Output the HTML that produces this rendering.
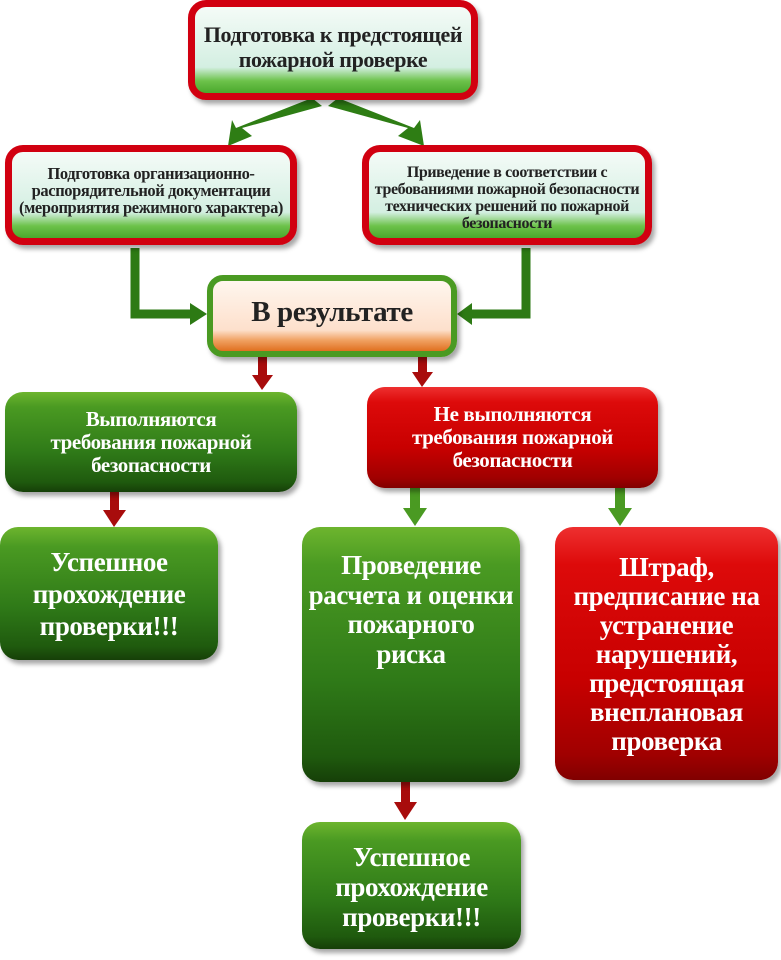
<!DOCTYPE html>
<html><head><meta charset="utf-8"><style>
body{margin:0;width:781px;height:960px;background:#fff;position:relative;overflow:hidden;font-family:"Liberation Serif","Noto Serif CJK SC",serif;font-weight:bold}
.b{position:absolute;box-sizing:border-box;display:flex;align-items:center;justify-content:center;text-align:center;border-radius:16px;box-shadow:3px 4px 5px rgba(0,0,0,.35)}
.rb{border:7px solid #d10010;background:linear-gradient(#f4fbf7 0%,#d4efe2 70%,#6cc24a 86%,#4aa82c 100%);color:#222;border-radius:18px}
.gb{border:6px solid #4a9a22;background:linear-gradient(#fff6ee 0%,#fde0cc 70%,#f0a060 85%,#e07020 100%);color:#222}
.g{background:linear-gradient(#6db52e 0%,#4a9a22 15%,#2f7a18 60%,#1f5a0e 90%,#163f08 100%);color:#fff;border-radius:18px}
.r{background:linear-gradient(#ee3030 0%,#dd0a0a 15%,#c80000 60%,#a00000 90%,#800000 100%);color:#fff;border-radius:18px}
.t{letter-spacing:-0.4px;white-space:nowrap}
</style></head><body>
<svg width="781" height="960" style="position:absolute;left:0;top:0">
<g fill="#2e7d14" stroke="none">
<polygon points="312,98 322,106 242,128 252,136 228,146 232,120 236,128"/>
<polygon points="338,98 328,106 408,128 398,136 424,146 420,120 414,128"/>
</g>
<g stroke="#2d7a14" stroke-width="9" fill="none">
<polyline points="135,248 135,314 194,314"/>
<polyline points="526,248 526,314 468,314"/>
</g>
<polygon points="190,303 207,314 190,325" fill="#2d7a14"/>
<polygon points="472,303 457,314 472,325" fill="#2d7a14"/>
<g fill="#a80c0c">
<rect x="258" y="357" width="9" height="20"/><polygon points="252,375 273,375 262,390"/>
<rect x="418" y="357" width="9" height="16"/><polygon points="412,372 433,372 422,387"/>
<rect x="110" y="490" width="9" height="22"/><polygon points="103,510 126,510 114,527"/>
<rect x="401" y="782" width="9" height="22"/><polygon points="394,802 417,802 405,820"/>
</g>
<g fill="#4a9a22">
<rect x="410" y="488" width="10" height="22"/><polygon points="403,508 427,508 415,526"/>
<rect x="615" y="488" width="10" height="22"/><polygon points="608,508 632,508 620,526"/>
</g>
</svg>
<div class="b rb t" style="left:188px;top:0;width:290px;height:100px;font-size:22px;line-height:25px;padding-bottom:6px">Подготовка к предстоящей<br>пожарной проверке</div>
<div class="b rb t" style="left:5px;top:145px;width:292px;height:100px;font-size:16.5px;line-height:17px;padding-bottom:10px">Подготовка организационно-<br>распорядительной документации<br>(мероприятия режимного характера)</div>
<div class="b rb t" style="left:362px;top:145px;width:290px;height:100px;font-size:16px;line-height:17px;padding-top:6px">Приведение в соответствии с<br>требованиями пожарной безопасности<br>технических решений по пожарной<br>безопасности</div>
<div class="b gb t" style="left:207px;top:275px;width:250px;height:82px;font-size:29px;padding-bottom:8px">В результате</div>
<div class="b g t" style="left:5px;top:392px;width:292px;height:100px;font-size:21px;line-height:23px">Выполняются<br>требования пожарной<br>безопасности</div>
<div class="b r t" style="left:367px;top:387px;width:291px;height:101px;font-size:21px;line-height:23px;padding-bottom:0;padding-top:0">Не выполняются<br>требования пожарной<br>безопасности</div>
<div class="b g t" style="left:0;top:527px;width:218px;height:133px;font-size:27px;line-height:32px;padding-bottom:0">Успешное<br>прохождение<br>проверки!!!</div>
<div class="b g t" style="left:302px;top:527px;width:218px;height:255px;font-size:27px;line-height:29.5px;align-items:flex-start;padding-top:24px">Проведение<br>расчета и оценки<br>пожарного<br>риска</div>
<div class="b r t" style="left:555px;top:527px;width:223px;height:253px;font-size:27px;line-height:29px;align-items:flex-start;padding-top:26px">Штраф,<br>предписание на<br>устранение<br>нарушений,<br>предстоящая<br>внеплановая<br>проверка</div>
<div class="b g t" style="left:302px;top:822px;width:219px;height:127px;font-size:27px;line-height:30px;padding-top:2px">Успешное<br>прохождение<br>проверки!!!</div>
</body></html>
